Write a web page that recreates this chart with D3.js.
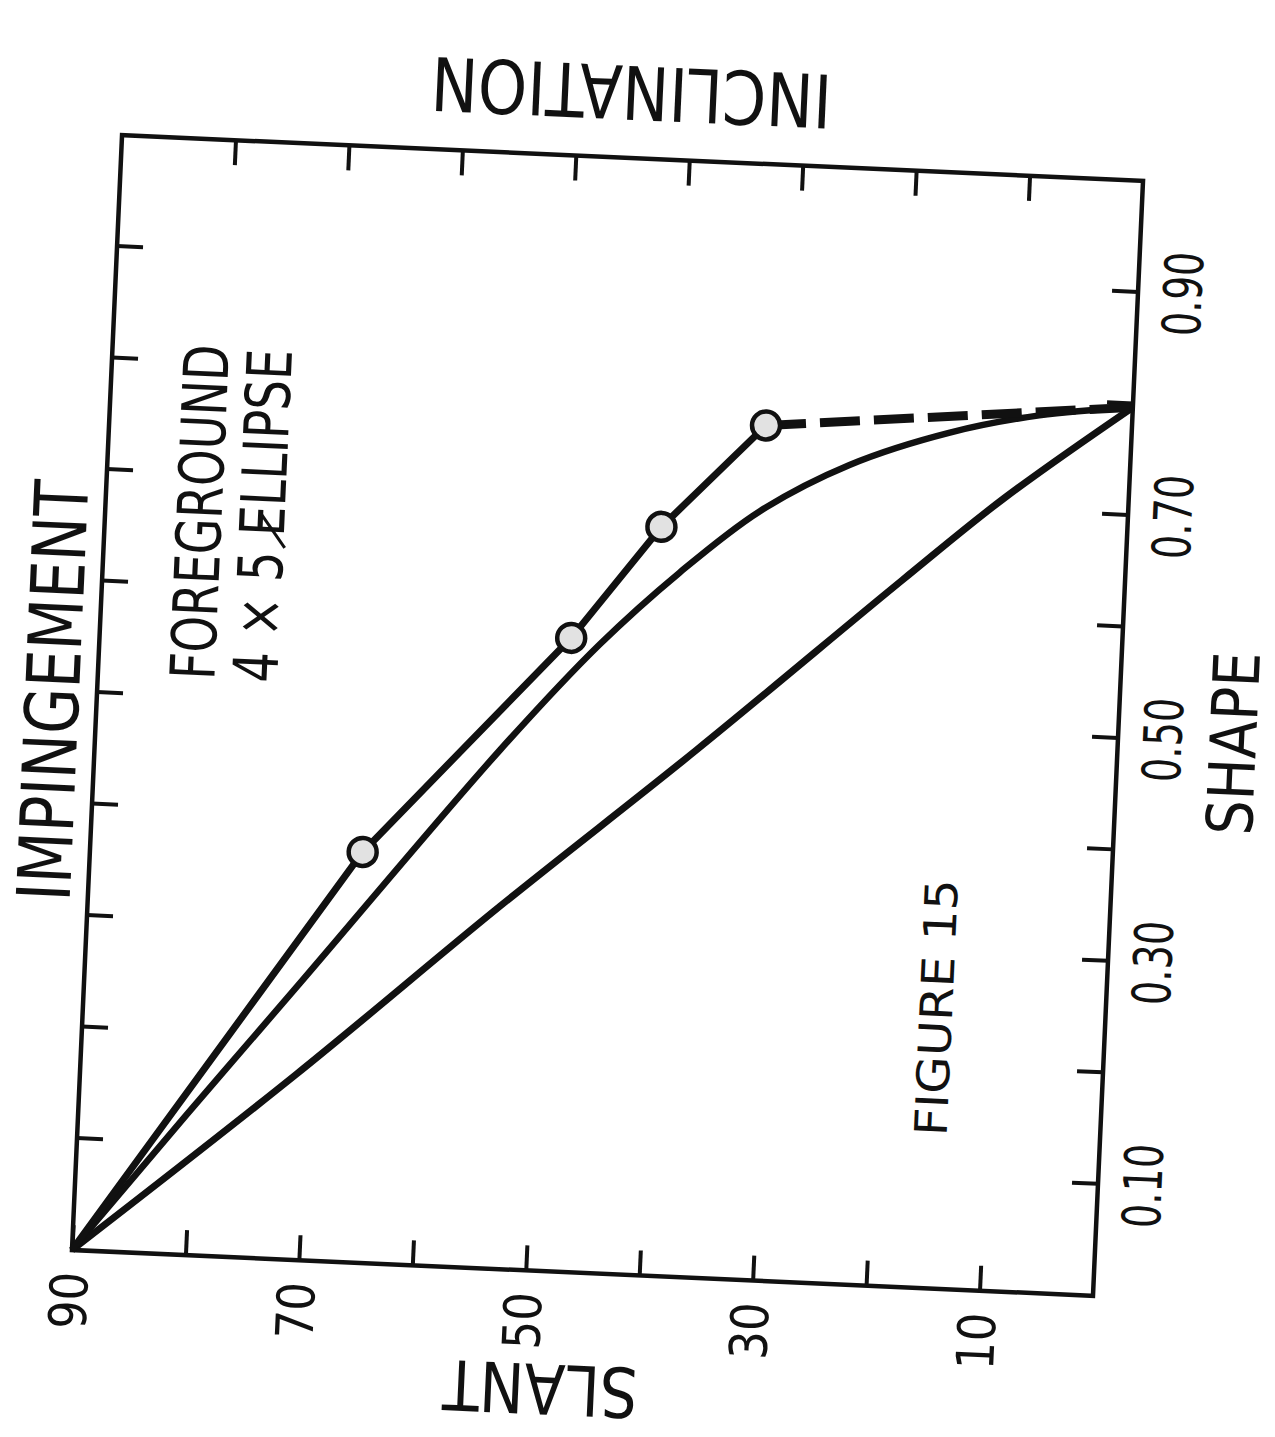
<!DOCTYPE html>
<html>
<head>
<meta charset="utf-8">
<script src="https://cdnjs.cloudflare.com/ajax/libs/d3/7.8.5/d3.min.js"></script>
<style>
  html, body { margin: 0; padding: 0; background: #fff; }
  svg { display: block; }
  text { font-family: "DejaVu Sans", sans-serif; fill: #111; }
</style>
</head>
<body>
<div id="chart"></div>
<script>
// Figure 15 - slant vs shape, page is scanned sideways so the whole plot is rotated

const SHAPE_TICKS = [0.1, 0.2, 0.3, 0.4, 0.5, 0.6, 0.7, 0.8, 0.9]
const SHAPE_LABELS = [0.1, 0.3, 0.5, 0.7, 0.9]
const SLANT_TICKS = [90, 80, 70, 60, 50, 40, 30, 20, 10]
const SLANT_LABELS = [90, 70, 50, 30, 10]

// curve with circle markers (solid part)
const markedShape = [0, 0.368, 0.568, 0.671, 0.766]
const markedSlant = [90, 66.0, 48.5, 41.0, 32.2]
// its dashed end
const dashedShape = [0.766, 0.797]
const dashedSlant = [32.2, 0]
// middle smooth curve
const midShape = [0, 0.125, 0.248, 0.465, 0.563, 0.631, 0.689, 0.734, 0.767, 0.786, 0.797]
const midSlant = [90, 80.5, 71.0, 54.3, 46.0, 39.2, 32.4, 24.7, 16.0, 8.2, 0]
// lower, almost straight curve
const lowShape = [0, 0.166, 0.325, 0.473, 0.633, 0.711, 0.797]
const lowSlant = [90, 71.0, 53.7, 37.0, 19.6, 10.9, 0]

const width = 1275
const height = 1437
const W = 1116
const H = 1022

const svg = d3.select("#chart")
  .append("svg")
  .attr("width", width)
  .attr("height", height)

svg.append("rect").attr("width", width).attr("height", height).attr("fill", "#fff")

// plot drawn upright, then turned to match the scan
const g = svg.append("g")
  .attr("transform", "translate(72,1250) rotate(-87.43)")

const x = d3.scaleLinear().domain([0, 1]).range([0, W])
const y = d3.scaleLinear().domain([0, 90]).range([H, 0])

const zip = (a, b) => a.map((v, i) => [v, b[i]])

// axes (ticks point inward)
const bottomAxis = g.append("g")
  .attr("transform", `translate(0,${H})`)
  .call(d3.axisBottom(x)
    .tickValues(SHAPE_TICKS)
    .tickSizeInner(-26)
    .tickSizeOuter(0)
    .tickPadding(26)
    .tickFormat(d => SHAPE_LABELS.includes(d) ? d3.format(".2f")(d) : ""))

g.append("g")
  .call(d3.axisTop(x)
    .tickValues(SHAPE_TICKS)
    .tickSizeInner(-26)
    .tickSizeOuter(0)
    .tickFormat(""))

const leftAxis = g.append("g")
  .call(d3.axisLeft(y)
    .tickValues(SLANT_TICKS)
    .tickSizeInner(-25)
    .tickSizeOuter(0)
    .tickPadding(22)
    .tickFormat(d => SLANT_LABELS.includes(d) ? d : ""))

g.append("g")
  .attr("transform", `translate(${W},0)`)
  .call(d3.axisRight(y)
    .tickValues(SLANT_TICKS.filter(d => d !== 90))
    .tickSizeInner(-25)
    .tickSizeOuter(0)
    .tickFormat(""))

g.selectAll(".domain").remove()
g.selectAll(".tick line").attr("stroke", "#111").attr("stroke-width", 4)

bottomAxis.selectAll("text")
  .attr("font-size", 53)
  .attr("fill", "#111")
  .attr("font-family", "DejaVu Sans, sans-serif")
  .each(function () {
    if (this.textContent) d3.select(this).attr("textLength", 84).attr("lengthAdjust", "spacingAndGlyphs")
  })

leftAxis.selectAll("text")
  .attr("font-size", 52)
  .attr("fill", "#111")
  .attr("font-family", "DejaVu Sans, sans-serif")
  .each(function () {
    if (this.textContent) d3.select(this).attr("textLength", 57).attr("lengthAdjust", "spacingAndGlyphs")
  })

// frame
g.append("rect")
  .attr("x", 0).attr("y", 0)
  .attr("width", W).attr("height", H)
  .attr("fill", "none")
  .attr("stroke", "#111")
  .attr("stroke-width", 4.5)

// curves
const line = d3.line().x(d => x(d[0])).y(d => y(d[1]))
const smooth = d3.line().x(d => x(d[0])).y(d => y(d[1])).curve(d3.curveCatmullRom.alpha(0.5))

g.append("path")
  .attr("d", smooth(zip(lowShape, lowSlant)))
  .attr("fill", "none").attr("stroke", "#111").attr("stroke-width", 7)

g.append("path")
  .attr("d", smooth(zip(midShape, midSlant)))
  .attr("fill", "none").attr("stroke", "#111").attr("stroke-width", 6.5)

g.append("path")
  .attr("d", line(zip(markedShape, markedSlant)))
  .attr("fill", "none").attr("stroke", "#111").attr("stroke-width", 7)

g.append("path")
  .attr("d", line(zip(dashedShape, dashedSlant)))
  .attr("fill", "none").attr("stroke", "#111").attr("stroke-width", 9)
  .attr("stroke-dasharray", "40,14")

g.selectAll("circle.pt")
  .data(zip(markedShape, markedSlant).slice(1))
  .join("circle")
  .attr("class", "pt")
  .attr("cx", d => x(d[0]))
  .attr("cy", d => y(d[1]))
  .attr("r", 14)
  .attr("fill", "#e2e2e2")
  .attr("stroke", "#111")
  .attr("stroke-width", 4.5)

// labels
function label(txt, px, py, size, len, rot) {
  const t = g.append("text")
    .attr("x", px).attr("y", py)
    .attr("text-anchor", "middle")
    .attr("dominant-baseline", "central")
    .attr("font-size", size)
    .attr("textLength", len)
    .attr("lengthAdjust", "spacingAndGlyphs")
    .text(txt)
  if (rot) t.attr("transform", `rotate(${rot},${px},${py})`)
  return t
}

label("IMPINGEMENT", W / 2, -44, 74, 421)
label("SHAPE", W / 2, 1138, 64, 183)
label("SLANT", -117, 474, 69, 195, -90)
label("INCLINATION", 1182, 507, 74, 401, -90)
label("FOREGROUND", 743, 95, 62, 335)
label("4 \u00d7 5  ELLIPSE", 742, 158, 62, 333)
label("FIGURE 15", 281, 853, 45, 257)

// pen stroke through the E of ELLIPSE
g.append("line")
  .attr("x1", 711).attr("y1", 181)
  .attr("x2", 745).attr("y2", 155)
  .attr("stroke", "#111").attr("stroke-width", 3)
</script>
</body>
</html>
